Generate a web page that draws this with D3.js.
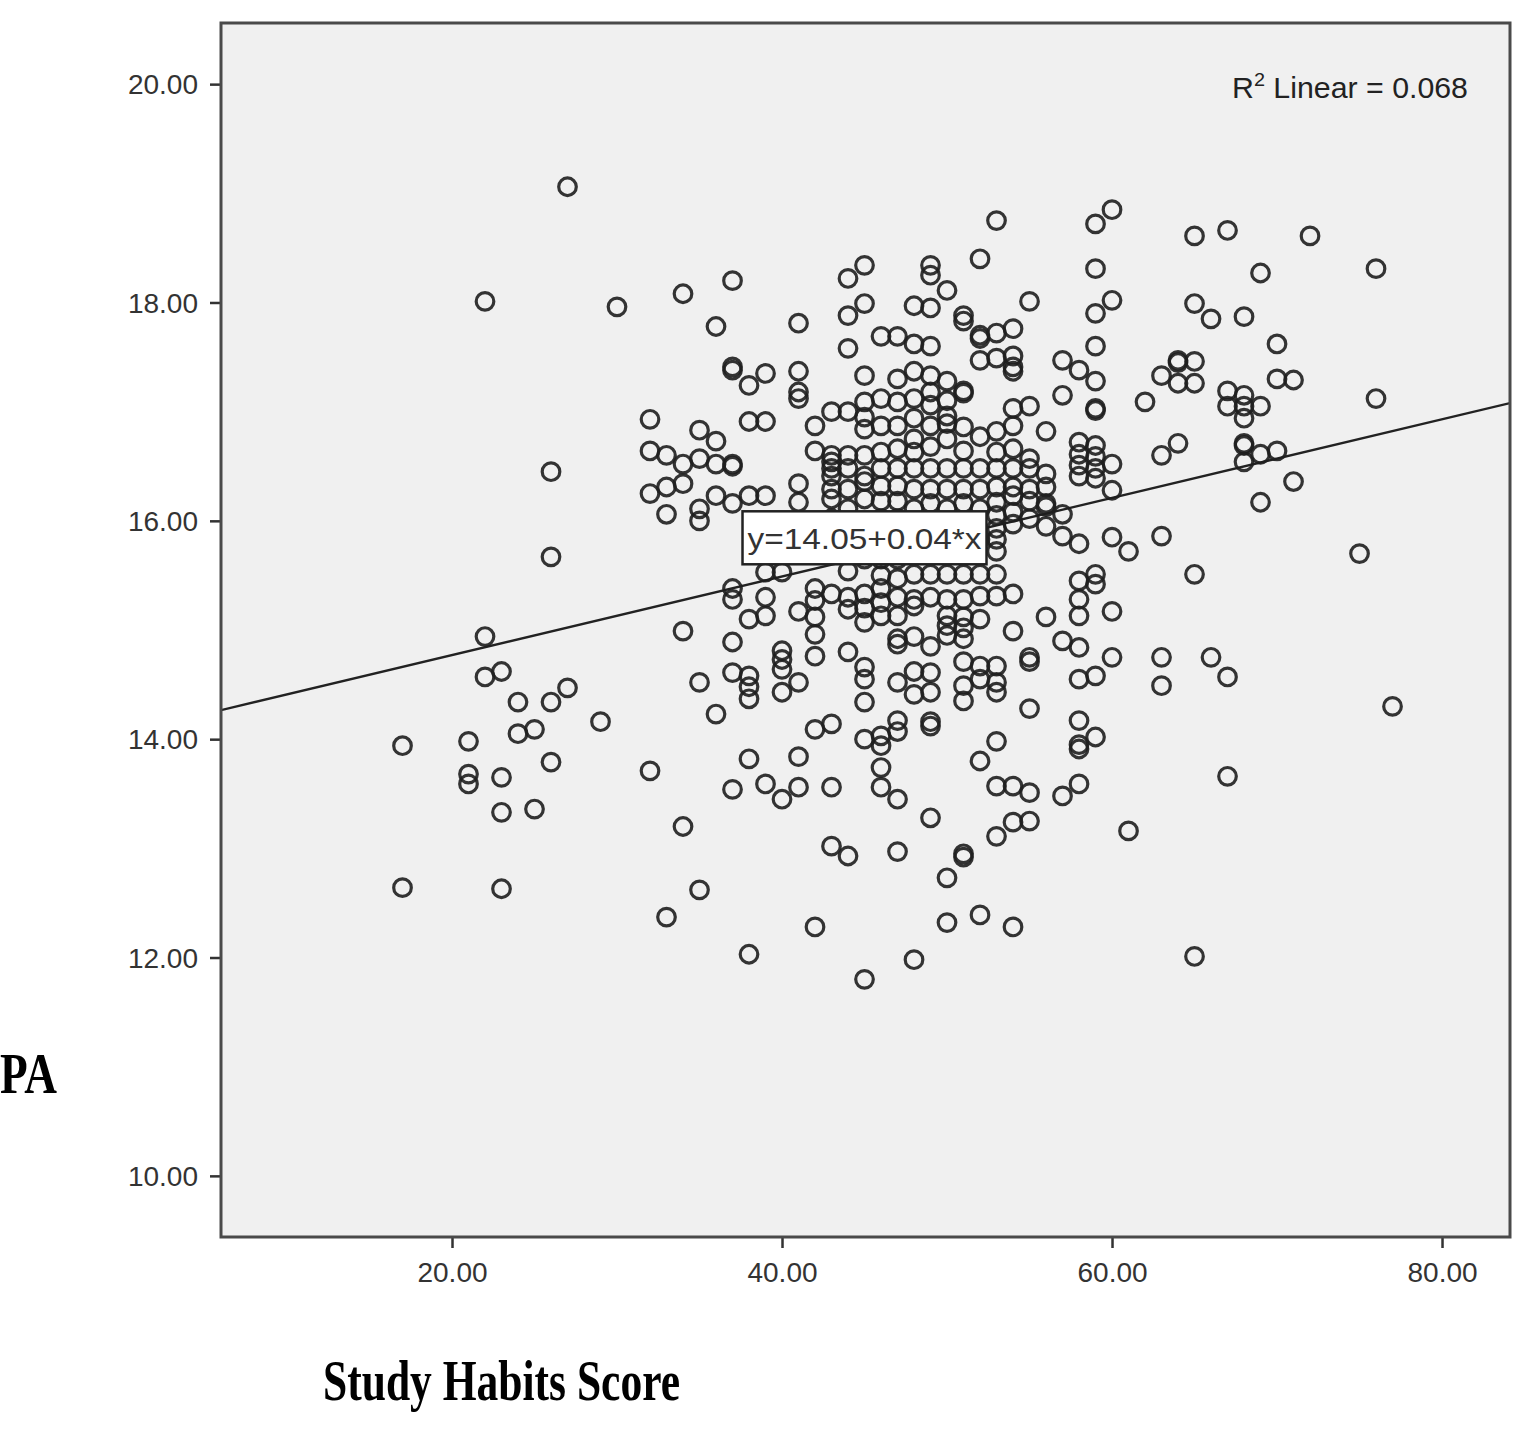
<!DOCTYPE html>
<html>
<head>
<meta charset="utf-8">
<title>PA vs Study Habits Score</title>
<script src="https://d3js.org/d3.v7.min.js"></script>
<style>
body { margin: 0; background: #fff; }
svg { display: block; }
.tick text { font-family: "Liberation Sans", Arial, sans-serif; fill: #333; }
.tick line { stroke: #333; stroke-width: 2.5; }
</style>
</head>
<body>
<script>
// study habits score (x) and the PA values read for each score
var habitScores = [17, 21, 22, 23, 24, 25, 26, 27, 29, 30, 32, 33, 34, 35, 36, 37, 38, 39, 40,
  41, 42, 43, 44, 45, 46, 47, 48, 49, 50, 51, 52, 53, 54, 55, 56, 57, 58, 59, 60,
  61, 62, 63, 64, 65, 66, 67, 68, 69, 70, 71, 72, 75, 76, 77];

var paValues = [
  [13.94, 12.64],
  [13.98, 13.68, 13.59],
  [18.01, 14.94, 14.57],
  [14.62, 13.65, 13.33, 12.63],
  [14.34, 14.05],
  [14.09, 13.36],
  [16.45, 15.67, 14.34, 13.79],
  [19.06, 14.47],
  [14.16],
  [17.96],
  [16.93, 16.64, 16.25, 13.71],
  [16.60, 16.31, 16.06, 12.37],
  [18.08, 16.52, 16.34, 14.99, 13.20],
  [16.83, 16.57, 16.11, 16.00, 14.52, 12.62],
  [17.78, 16.73, 16.52, 16.23, 14.23],
  [18.20, 17.41, 17.38, 16.52, 16.50, 16.16, 15.38, 15.28, 14.89, 14.61, 13.54],
  [17.24, 16.91, 16.23, 15.10, 14.58, 14.48, 14.37, 13.82, 12.03],
  [17.35, 16.91, 16.23, 15.70, 15.53, 15.30, 15.13, 13.59],
  [15.76, 15.53, 14.81, 14.73, 14.64, 14.43, 13.45],
  [17.81, 17.37, 17.18, 17.12, 16.34, 16.17, 15.17, 14.52, 13.84, 13.56],
  [16.87, 16.64, 15.38, 15.27, 15.12, 14.96, 14.76, 14.09, 12.28],
  [17.00, 16.60, 16.54, 16.48, 16.41, 16.29, 16.20, 16.02, 15.70, 15.33, 14.14, 13.56, 13.02],
  [18.22, 17.88, 17.58, 17.00, 16.60, 16.48, 16.29, 16.11, 15.97, 15.54, 15.30, 15.19, 14.80, 12.93],
  [18.34, 17.99, 17.33, 17.09, 16.95, 16.84, 16.60, 16.41, 16.36, 16.20, 15.93, 15.65, 15.33, 15.20, 15.07, 14.66, 14.55, 14.34, 14.00, 11.80],
  [17.69, 17.12, 16.87, 16.63, 16.48, 16.32, 16.18, 16.02, 15.65, 15.50, 15.38, 15.25, 15.13, 14.03, 13.94, 13.74, 13.56],
  [17.69, 17.30, 17.09, 16.87, 16.66, 16.48, 16.32, 16.18, 16.02, 15.65, 15.47, 15.30, 15.13, 14.92, 14.87, 14.52, 14.17, 14.07, 13.45, 12.97],
  [17.97, 17.62, 17.37, 17.12, 16.94, 16.75, 16.63, 16.48, 16.29, 16.11, 15.70, 15.51, 15.28, 15.22, 14.94, 14.62, 14.41, 11.98],
  [18.34, 18.25, 17.95, 17.60, 17.33, 17.18, 17.06, 16.87, 16.68, 16.48, 16.29, 16.16, 15.83, 15.51, 15.30, 14.85, 14.61, 14.43, 14.16, 14.12, 13.28],
  [18.11, 17.28, 17.10, 16.96, 16.89, 16.75, 16.48, 16.29, 16.11, 15.93, 15.70, 15.51, 15.28, 15.13, 15.04, 14.95, 12.73, 12.32],
  [17.88, 17.83, 17.19, 17.17, 16.86, 16.64, 16.48, 16.29, 16.16, 15.83, 15.51, 15.28, 15.12, 15.02, 14.92, 14.71, 14.49, 14.35, 12.95, 12.92],
  [18.40, 17.70, 17.67, 17.47, 16.77, 16.48, 16.29, 16.11, 15.83, 15.51, 15.31, 15.10, 14.67, 14.55, 13.80, 12.39],
  [18.75, 17.72, 17.49, 16.82, 16.63, 16.48, 16.31, 16.17, 16.05, 15.93, 15.83, 15.72, 15.51, 15.31, 14.67, 14.52, 14.43, 13.98, 13.57, 13.11],
  [17.76, 17.51, 17.41, 17.37, 17.03, 16.87, 16.66, 16.48, 16.31, 16.23, 16.08, 15.97, 15.33, 14.99, 13.57, 13.24, 12.28],
  [18.01, 17.05, 16.57, 16.48, 16.29, 16.18, 16.02, 14.75, 14.71, 14.28, 13.51, 13.25],
  [16.82, 16.43, 16.31, 16.16, 16.13, 15.95, 15.12],
  [17.47, 17.15, 16.06, 15.86, 14.90, 13.48],
  [17.38, 16.72, 16.61, 16.51, 16.41, 15.79, 15.45, 15.28, 15.13, 14.84, 14.55, 14.17, 13.95, 13.91, 13.59],
  [18.72, 18.31, 17.90, 17.60, 17.28, 17.03, 17.01, 16.69, 16.59, 16.48, 16.39, 15.51, 15.42, 14.58, 14.02],
  [18.85, 18.02, 16.52, 16.28, 15.85, 15.17, 14.75],
  [15.72, 13.16],
  [17.09],
  [17.33, 16.60, 15.86, 14.75, 14.49],
  [17.47, 17.45, 17.26, 16.71],
  [18.61, 17.99, 17.46, 17.26, 15.51, 12.01],
  [17.85, 14.75],
  [18.66, 17.19, 17.05, 14.57, 13.66],
  [17.87, 17.15, 17.05, 16.94, 16.71, 16.69, 16.54],
  [18.27, 17.05, 16.61, 16.17],
  [17.62, 17.30, 16.64],
  [17.29, 16.36],
  [18.61],
  [15.70],
  [18.31, 17.12],
  [14.30]
];

var xTicks = [20, 40, 60, 80];
var yTicks = [10, 12, 14, 16, 18, 20];

var fitIntercept = 14.05;
var fitSlope = 0.036;
var fitLabel = "y=14.05+0.04*x";
var fitLabelAt = [45, 15.84];
var r2Label = "0.068";

var width = 1539, height = 1432;
var plotLeft = 221, plotRight = 1510, plotTop = 23, plotBottom = 1237;

var points = [];
habitScores.forEach(function(s, i) {
  paValues[i].forEach(function(v) { points.push({x: s, y: v}); });
});

var x = d3.scaleLinear().domain([6, 84.12]).range([plotLeft, plotRight]);
var y = d3.scaleLinear().domain([9.44, 20.56]).range([plotBottom, plotTop]);

var svg = d3.select("body").append("svg")
  .attr("width", width)
  .attr("height", height);

svg.append("defs").append("clipPath").attr("id", "plotclip")
  .append("rect")
  .attr("x", plotLeft).attr("y", plotTop)
  .attr("width", plotRight - plotLeft).attr("height", plotBottom - plotTop);

// panel
svg.append("rect")
  .attr("x", plotLeft).attr("y", plotTop)
  .attr("width", plotRight - plotLeft).attr("height", plotBottom - plotTop)
  .attr("fill", "#f0f0f0");

var plot = svg.append("g").attr("clip-path", "url(#plotclip)");

// fit line
var xd = x.domain();
plot.append("line")
  .attr("x1", x(xd[0])).attr("y1", y(fitIntercept + fitSlope * xd[0]))
  .attr("x2", x(xd[1])).attr("y2", y(fitIntercept + fitSlope * xd[1]))
  .attr("stroke", "#222")
  .attr("stroke-width", 2.3);

plot.selectAll("circle")
  .data(points)
  .enter()
  .append("circle")
  .attr("cx", function(d) { return x(d.x); })
  .attr("cy", function(d) { return y(d.y); })
  .attr("r", 8.8)
  .attr("fill", "none")
  .attr("stroke", "#1e1e1e")
  .attr("stroke-opacity", 0.9)
  .attr("stroke-width", 3.2);

// equation label box
var lab = plot.append("g")
  .attr("transform", "translate(" + x(fitLabelAt[0]) + "," + y(fitLabelAt[1]) + ")");
lab.append("rect")
  .attr("x", -122).attr("y", -27)
  .attr("width", 244).attr("height", 53)
  .attr("fill", "#fff")
  .attr("stroke", "#222")
  .attr("stroke-width", 2.5);
lab.append("text")
  .attr("text-anchor", "middle")
  .attr("y", 11)
  .attr("font-family", "Liberation Sans, Arial, sans-serif")
  .attr("font-size", 30)
  .attr("fill", "#333")
  .attr("textLength", 234)
  .attr("lengthAdjust", "spacingAndGlyphs")
  .text(fitLabel);

// R2 note
var r2 = svg.append("text")
  .attr("x", 1468).attr("y", 98)
  .attr("text-anchor", "end")
  .attr("font-family", "Liberation Sans, Arial, sans-serif")
  .attr("font-size", 29)
  .attr("fill", "#222")
  .attr("textLength", 236)
  .attr("lengthAdjust", "spacingAndGlyphs");
r2.append("tspan").text("R");
r2.append("tspan").attr("dy", -12).attr("font-size", 19).text("2");
r2.append("tspan").attr("dy", 12).text(" Linear = " + r2Label);

// axes
var yAxis = d3.axisLeft(y).tickValues(yTicks).tickSize(11).tickPadding(12)
  .tickFormat(d3.format(".2f"));
var gy = svg.append("g").attr("transform", "translate(" + plotLeft + ",0)").call(yAxis);
gy.select(".domain").remove();
gy.selectAll(".tick text").attr("font-size", 28).attr("dy", "0.35em");

var xAxis = d3.axisBottom(x).tickValues(xTicks).tickSize(11).tickPadding(14)
  .tickFormat(d3.format(".2f"));
var gx = svg.append("g").attr("transform", "translate(0," + plotBottom + ")").call(xAxis);
gx.select(".domain").remove();
gx.selectAll(".tick text").attr("font-size", 28);

// frame
svg.append("path")
  .attr("d", "M" + plotLeft + "," + plotBottom + "V" + plotTop + "H" + plotRight + "V" + plotBottom + "Z")
  .attr("fill", "none")
  .attr("stroke", "#4a4a4a")
  .attr("stroke-width", 3);

// axis titles
svg.append("text")
  .attr("x", 0).attr("y", 1093)
  .attr("font-family", "Liberation Serif, Times New Roman, serif")
  .attr("font-weight", "bold")
  .attr("font-size", 56)
  .attr("textLength", 57)
  .attr("lengthAdjust", "spacingAndGlyphs")
  .text("PA");

svg.append("text")
  .attr("x", 323).attr("y", 1400)
  .attr("font-family", "Liberation Serif, Times New Roman, serif")
  .attr("font-weight", "bold")
  .attr("font-size", 58)
  .attr("textLength", 357)
  .attr("lengthAdjust", "spacingAndGlyphs")
  .text("Study Habits Score");
</script>
</body>
</html>
